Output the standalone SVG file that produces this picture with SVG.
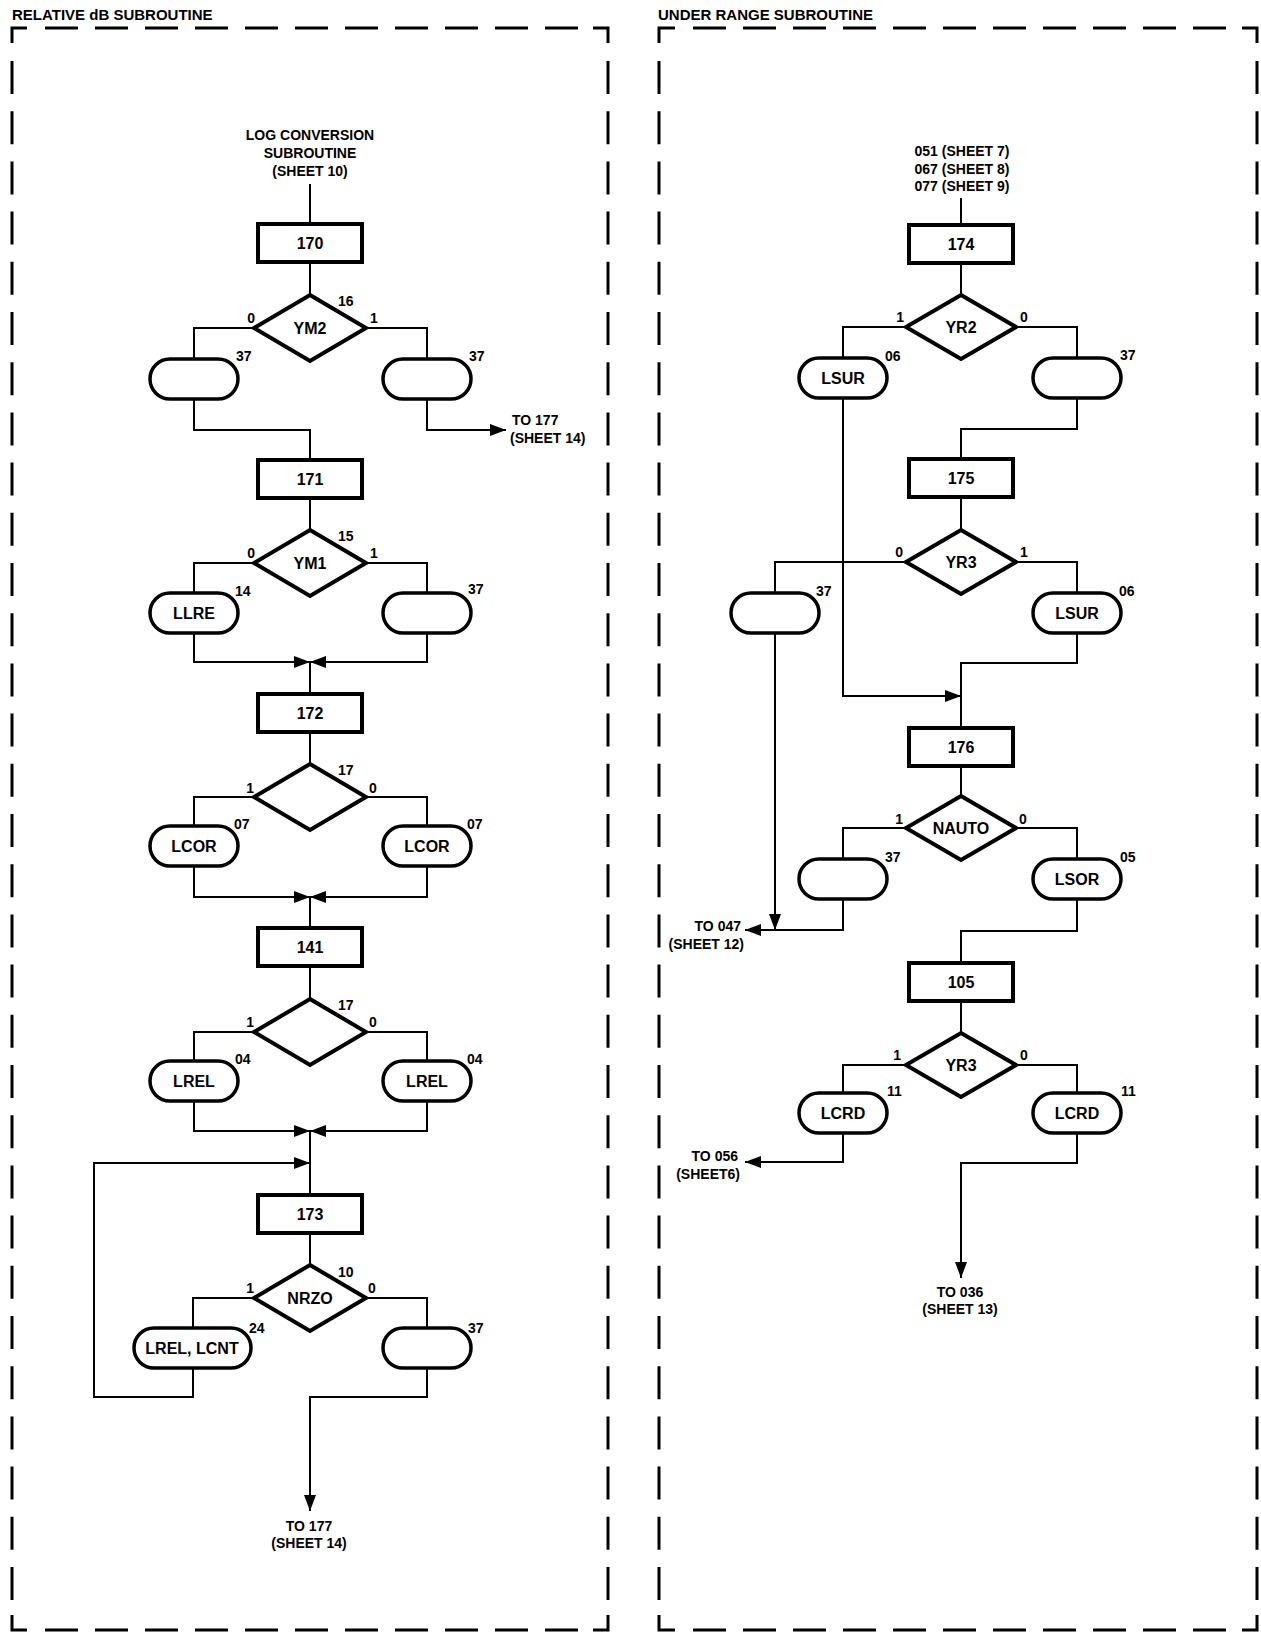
<svg xmlns="http://www.w3.org/2000/svg" width="1261" height="1632" viewBox="0 0 1261 1632">
<style>
text{font-family:"Liberation Sans",Arial,sans-serif;font-weight:bold;fill:#000}
.bx{fill:#fff;stroke:#000;stroke-width:4}
.dm{fill:#fff;stroke:#000;stroke-width:4;stroke-linejoin:miter}
.ov{fill:#fff;stroke:#000;stroke-width:3.5}
.ln{fill:none;stroke:#000;stroke-width:2}
.bd{fill:none;stroke:#000;stroke-width:3}
.dv{fill:none;stroke:#000;stroke-width:3;stroke-dasharray:33 17.2}
.dh{fill:none;stroke:#000;stroke-width:3;stroke-dasharray:33 17}
.c{font-size:16px;text-anchor:middle}
.n{font-size:14px}
.ne{font-size:14px;text-anchor:end}
.s{font-size:14px}
.sm{font-size:14px;text-anchor:middle}
.se{font-size:14px;text-anchor:end}
.t{font-size:15px}
</style>
<defs>
<marker id="ah" markerUnits="userSpaceOnUse" markerWidth="16" markerHeight="12" refX="16" refY="6" orient="auto">
<path d="M0,0 L16,6 L0,12 Z" fill="#000"/>
</marker>
</defs>

<g id="frames">
<text class="t" x="12" y="20">RELATIVE dB SUBROUTINE</text>
<text class="t" x="658" y="20">UNDER RANGE SUBROUTINE</text>
<path class="bd" d="M12,43 V28 H27"/>
<path class="bd" d="M593,28 H608 V43"/>
<path class="bd" d="M12,1615 V1630 H27"/>
<path class="bd" d="M593,1630 H608 V1615"/>
<path class="dh" d="M45,28 H578"/>
<path class="dh" d="M45,1630 H578"/>
<path class="dv" d="M12,61 V1600"/>
<path class="dv" d="M608,61 V1600"/>
<path class="bd" d="M659,43 V28 H675"/>
<path class="bd" d="M1242,28 H1257 V43"/>
<path class="bd" d="M659,1615 V1630 H675"/>
<path class="bd" d="M1242,1630 H1257 V1615"/>
<path class="dh" d="M693,28 H1226"/>
<path class="dh" d="M693,1630 H1226"/>
<path class="dv" d="M659,61 V1600"/>
<path class="dv" d="M1257,61 V1600"/>
</g>

<g id="connectors">
<path class="ln" d="M310,184 V224"/>
<path class="ln" d="M310,262 V295"/>
<path class="ln" d="M254,328 H194 V359"/>
<path class="ln" d="M366,328 H427 V359"/>
<path class="ln" d="M194,399 V430 H310 V460"/>
<path class="ln" d="M427,399 V430 H506" marker-end="url(#ah)"/>
<path class="ln" d="M310,498 V530"/>
<path class="ln" d="M254,563 H194 V593"/>
<path class="ln" d="M366,563 H427 V593"/>
<path class="ln" d="M194,633 V662 H310" marker-end="url(#ah)"/>
<path class="ln" d="M427,633 V662 H310" marker-end="url(#ah)"/>
<path class="ln" d="M310,662 V694"/>
<path class="ln" d="M310,732 V764"/>
<path class="ln" d="M254,797 H194 V826"/>
<path class="ln" d="M366,797 H427 V826"/>
<path class="ln" d="M194,866 V897 H310" marker-end="url(#ah)"/>
<path class="ln" d="M427,866 V897 H310" marker-end="url(#ah)"/>
<path class="ln" d="M310,897 V928"/>
<path class="ln" d="M310,966 V999"/>
<path class="ln" d="M254,1032 H194 V1061"/>
<path class="ln" d="M366,1032 H427 V1061"/>
<path class="ln" d="M194,1101 V1131 H310" marker-end="url(#ah)"/>
<path class="ln" d="M427,1101 V1131 H310" marker-end="url(#ah)"/>
<path class="ln" d="M310,1131 V1195"/>
<path class="ln" d="M310,1233 V1265"/>
<path class="ln" d="M254,1298 H193 V1328"/>
<path class="ln" d="M366,1298 H427 V1328"/>
<path class="ln" d="M193,1368 V1397 H94 V1163 H310" marker-end="url(#ah)"/>
<path class="ln" d="M427,1368 V1397 H310 V1511" marker-end="url(#ah)"/>
<path class="ln" d="M961,198 V225"/>
<path class="ln" d="M961,263 V295"/>
<path class="ln" d="M906,327 H843 V358"/>
<path class="ln" d="M1016,327 H1077 V358"/>
<path class="ln" d="M843,398 V696 H961" marker-end="url(#ah)"/>
<path class="ln" d="M1077,398 V429 H961 V459"/>
<path class="ln" d="M961,497 V530"/>
<path class="ln" d="M906,562 H775 V593"/>
<path class="ln" d="M1016,562 H1077 V593"/>
<path class="ln" d="M775,633 V930" marker-end="url(#ah)"/>
<path class="ln" d="M1077,633 V663 H961 V728"/>
<path class="ln" d="M961,766 V796"/>
<path class="ln" d="M906,828 H843 V859"/>
<path class="ln" d="M1016,828 H1077 V859"/>
<path class="ln" d="M843,899 V930 H745" marker-end="url(#ah)"/>
<path class="ln" d="M1077,899 V931 H961 V963"/>
<path class="ln" d="M961,1001 V1033"/>
<path class="ln" d="M906,1065 H843 V1093"/>
<path class="ln" d="M1016,1065 H1077 V1093"/>
<path class="ln" d="M843,1133 V1162 H745" marker-end="url(#ah)"/>
<path class="ln" d="M1077,1133 V1163 H961 V1278" marker-end="url(#ah)"/>
</g>

<g id="start-log">
<text class="sm" x="310" y="140">LOG CONVERSION</text>
<text class="sm" x="310" y="158">SUBROUTINE</text>
<text class="sm" x="310" y="176">(SHEET 10)</text>
</g>
<g id="b170"><rect class="bx" x="258" y="224" width="104" height="38"/><text class="c" x="310" y="249">170</text></g>
<g id="d-ym2"><polygon class="dm" points="310,295 366,328 310,361 254,328"/><text class="c" x="310" y="334">YM2</text>
<text class="n" x="338" y="306">16</text><text class="ne" x="255" y="323">0</text><text class="n" x="370" y="323">1</text></g>
<g id="o170l"><rect class="ov" x="150" y="359" width="88" height="40" rx="20"/><text class="n" x="236" y="361">37</text></g>
<g id="o170r"><rect class="ov" x="383" y="359" width="88" height="40" rx="20"/><text class="n" x="469" y="361">37</text></g>
<g id="to177a"><text class="s" x="512" y="425">TO 177</text><text class="s" x="510" y="443">(SHEET 14)</text></g>

<g id="b171"><rect class="bx" x="258" y="460" width="104" height="38"/><text class="c" x="310" y="485">171</text></g>
<g id="d-ym1"><polygon class="dm" points="310,530 366,563 310,596 254,563"/><text class="c" x="310" y="569">YM1</text>
<text class="n" x="338" y="541">15</text><text class="ne" x="255" y="558">0</text><text class="n" x="370" y="558">1</text></g>
<g id="o171l"><rect class="ov" x="150" y="593" width="88" height="40" rx="20"/><text class="c" x="194" y="619">LLRE</text><text class="n" x="235" y="596">14</text></g>
<g id="o171r"><rect class="ov" x="383" y="593" width="88" height="40" rx="20"/><text class="n" x="468" y="594">37</text></g>

<g id="b172"><rect class="bx" x="258" y="694" width="104" height="38"/><text class="c" x="310" y="719">172</text></g>
<g id="d172"><polygon class="dm" points="310,764 366,797 310,830 254,797"/>
<text class="n" x="338" y="775">17</text><text class="ne" x="254" y="793">1</text><text class="n" x="369" y="793">0</text></g>
<g id="o172l"><rect class="ov" x="150" y="826" width="88" height="40" rx="20"/><text class="c" x="194" y="852">LCOR</text><text class="n" x="234" y="829">07</text></g>
<g id="o172r"><rect class="ov" x="383" y="826" width="88" height="40" rx="20"/><text class="c" x="427" y="852">LCOR</text><text class="n" x="467" y="829">07</text></g>

<g id="b141"><rect class="bx" x="258" y="928" width="104" height="38"/><text class="c" x="310" y="953">141</text></g>
<g id="d141"><polygon class="dm" points="310,999 366,1032 310,1065 254,1032"/>
<text class="n" x="338" y="1010">17</text><text class="ne" x="254" y="1027">1</text><text class="n" x="369" y="1027">0</text></g>
<g id="o141l"><rect class="ov" x="150" y="1061" width="88" height="40" rx="20"/><text class="c" x="194" y="1087">LREL</text><text class="n" x="235" y="1064">04</text></g>
<g id="o141r"><rect class="ov" x="383" y="1061" width="88" height="40" rx="20"/><text class="c" x="427" y="1087">LREL</text><text class="n" x="467" y="1064">04</text></g>

<g id="b173"><rect class="bx" x="258" y="1195" width="104" height="38"/><text class="c" x="310" y="1220">173</text></g>
<g id="d-nrzo"><polygon class="dm" points="310,1265 366,1298 310,1331 254,1298"/><text class="c" x="310" y="1304">NRZO</text>
<text class="n" x="338" y="1277">10</text><text class="ne" x="254" y="1293">1</text><text class="n" x="368" y="1293">0</text></g>
<g id="o173l"><rect class="ov" x="134" y="1328" width="117" height="40" rx="20"/><text class="c" x="192" y="1354">LREL, LCNT</text><text class="n" x="249" y="1333">24</text></g>
<g id="o173r"><rect class="ov" x="383" y="1328" width="88" height="40" rx="20"/><text class="n" x="468" y="1333">37</text></g>
<g id="to177b"><text class="sm" x="309" y="1531">TO 177</text><text class="sm" x="309" y="1548">(SHEET 14)</text></g>

<g id="start-ur">
<text class="sm" x="962" y="156">051 (SHEET 7)</text>
<text class="sm" x="962" y="174">067 (SHEET 8)</text>
<text class="sm" x="962" y="191">077 (SHEET 9)</text>
</g>
<g id="b174"><rect class="bx" x="909" y="225" width="104" height="38"/><text class="c" x="961" y="250">174</text></g>
<g id="d-yr2"><polygon class="dm" points="961,295 1016,327 961,359 906,327"/><text class="c" x="961" y="333">YR2</text>
<text class="ne" x="904" y="322">1</text><text class="n" x="1020" y="322">0</text></g>
<g id="o174l"><rect class="ov" x="799" y="358" width="88" height="40" rx="20"/><text class="c" x="843" y="384">LSUR</text><text class="n" x="885" y="361">06</text></g>
<g id="o174r"><rect class="ov" x="1033" y="358" width="88" height="40" rx="20"/><text class="n" x="1120" y="360">37</text></g>

<g id="b175"><rect class="bx" x="909" y="459" width="104" height="38"/><text class="c" x="961" y="484">175</text></g>
<g id="d-yr3a"><polygon class="dm" points="961,530 1016,562 961,594 906,562"/><text class="c" x="961" y="568">YR3</text>
<text class="ne" x="903" y="557">0</text><text class="n" x="1020" y="557">1</text></g>
<g id="o175l"><rect class="ov" x="731" y="593" width="88" height="40" rx="20"/><text class="n" x="816" y="596">37</text></g>
<g id="o175r"><rect class="ov" x="1033" y="593" width="88" height="40" rx="20"/><text class="c" x="1077" y="619">LSUR</text><text class="n" x="1119" y="596">06</text></g>

<g id="b176"><rect class="bx" x="909" y="728" width="104" height="38"/><text class="c" x="961" y="753">176</text></g>
<g id="d-nauto"><polygon class="dm" points="961,796 1016,828 961,860 906,828"/><text class="c" x="961" y="834">NAUTO</text>
<text class="ne" x="903" y="824">1</text><text class="n" x="1019" y="824">0</text></g>
<g id="o176l"><rect class="ov" x="799" y="859" width="88" height="40" rx="20"/><text class="n" x="885" y="862">37</text></g>
<g id="o176r"><rect class="ov" x="1033" y="859" width="88" height="40" rx="20"/><text class="c" x="1077" y="885">LSOR</text><text class="n" x="1120" y="862">05</text></g>
<g id="to047"><text class="se" x="741" y="931">TO 047</text><text class="se" x="744" y="949">(SHEET 12)</text></g>

<g id="b105"><rect class="bx" x="909" y="963" width="104" height="38"/><text class="c" x="961" y="988">105</text></g>
<g id="d-yr3b"><polygon class="dm" points="961,1033 1016,1065 961,1097 906,1065"/><text class="c" x="961" y="1071">YR3</text>
<text class="ne" x="901" y="1060">1</text><text class="n" x="1020" y="1060">0</text></g>
<g id="o105l"><rect class="ov" x="799" y="1093" width="88" height="40" rx="20"/><text class="c" x="843" y="1119">LCRD</text><text class="n" x="887" y="1096">11</text></g>
<g id="o105r"><rect class="ov" x="1033" y="1093" width="88" height="40" rx="20"/><text class="c" x="1077" y="1119">LCRD</text><text class="n" x="1121" y="1096">11</text></g>
<g id="to056"><text class="se" x="738" y="1161">TO 056</text><text class="se" x="740" y="1179">(SHEET6)</text></g>
<g id="to036"><text class="sm" x="960" y="1297">TO 036</text><text class="sm" x="960" y="1314">(SHEET 13)</text></g>
</svg>
